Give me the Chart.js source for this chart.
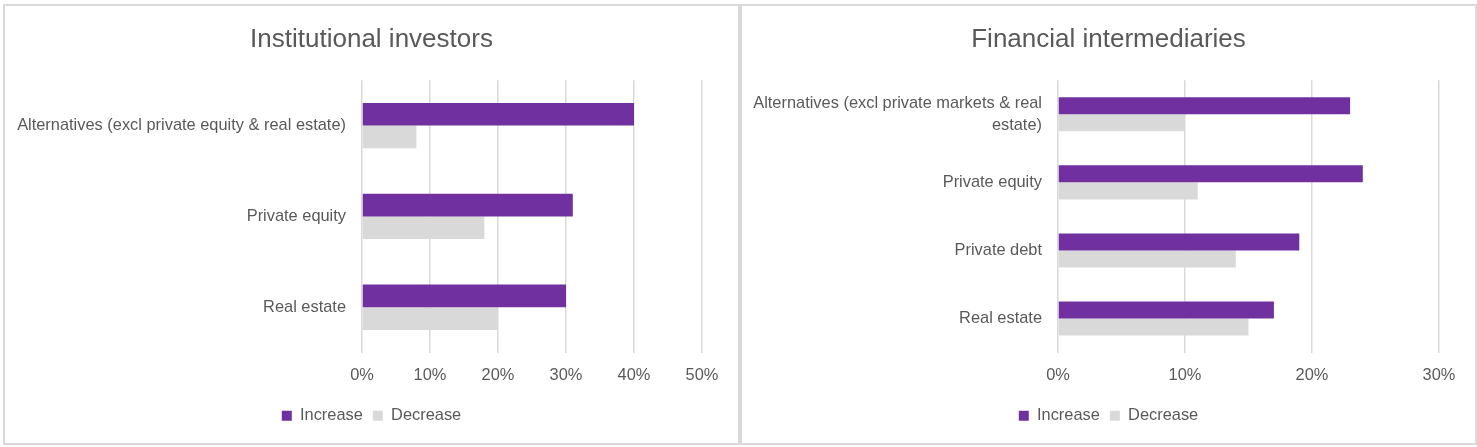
<!DOCTYPE html>
<html>
<head>
<meta charset="utf-8">
<script src="https://cdn.jsdelivr.net/npm/chart.js@4/dist/chart.umd.min.js"></script>
<style>
    html, body { margin: 0; padding: 0; background: #fff; }
    body { width: 1477px; height: 447px; position: relative; overflow: hidden; }
    .panel {
        position: absolute; top: 4px; width: 737px; height: 441px;
        border: 2px solid #d9d9d9; box-sizing: border-box; background: #fff;
    }
    #panel_left { left: 3px; }
    #panel_right { left: 740px; }
    .panel canvas { position: absolute; left: 0; top: 0; }
</style>
</head>
<body>
<div class="panel" id="panel_left"><canvas id="chart_left"></canvas></div>
<div class="panel" id="panel_right"><canvas id="chart_right"></canvas></div>
<script>
var series_names = ['Increase', 'Decrease']
,   series_colors = ['#7030a0', '#d9d9d9']
;

// Institutional investors
var left_title = 'Institutional investors'
,   left_categories = ['Alternatives (excl private equity & real estate)', 'Private equity', 'Real estate']
,   left_increase = [0.40, 0.31, 0.30]
,   left_decrease = [0.08, 0.18, 0.20]
,   left_ticks = [0, 0.1, 0.2, 0.3, 0.4, 0.5]
;

// Financial intermediaries
var right_title = 'Financial intermediaries'
,   right_categories = [['Alternatives (excl private markets & real', 'estate)'], 'Private equity', 'Private debt', 'Real estate']
,   right_increase = [0.23, 0.24, 0.19, 0.17]
,   right_decrease = [0.10, 0.11, 0.14, 0.15]
,   right_ticks = [0, 0.1, 0.2, 0.3]
;

var font_family = "'Liberation Sans', Arial, sans-serif"
,   text_color = '#595959'
;

// Title and legend are centred on the whole panel, not on the padded area
var centerBlocks = {
    id: 'centerBlocks',
    afterLayout: function (chart) {
        [chart.titleBlock, chart.legend].forEach(function (box) {
            if (!box) return;
            box.left = 0;
            box.right = chart.width;
            box.width = chart.width;
        });
    }
};

function drawChart(canvasId, title, categories, increase, decrease, ticks, plotLeft) {
    var ctx = document.getElementById(canvasId).getContext('2d');
    var tickMax = ticks[ticks.length - 1];

    return new Chart(ctx, {
        type: 'bar',
        data: {
            labels: categories,
            datasets: [
                { label: series_names[0], data: increase, backgroundColor: series_colors[0] },
                { label: series_names[1], data: decrease, backgroundColor: series_colors[1] }
            ]
        },
        plugins: [centerBlocks],
        options: {
            indexAxis: 'y',
            responsive: false,
            animation: false,
            devicePixelRatio: 1,
            categoryPercentage: 0.5,
            barPercentage: 1.0,
            layout: { padding: { top: 18, right: 36, bottom: 9, left: 0 } },
            scales: {
                x: {
                    min: 0,
                    max: tickMax,
                    afterBuildTicks: function (scale) {
                        scale.ticks = ticks.map(function (v) { return { value: v }; });
                    },
                    afterFit: function (scale) { scale.height = 45; },
                    grid: { color: '#d9d9d9', lineWidth: 1.5, drawTicks: false },
                    border: { display: false },
                    ticks: {
                        padding: 13,
                        color: text_color,
                        font: { family: font_family, size: 16.4 },
                        callback: function (v) { return Math.round(v * 100) + '%'; }
                    }
                },
                y: {
                    // fixed width so the plot starts where the original does
                    afterFit: function (scale) { scale.width = plotLeft; },
                    grid: { display: false, drawTicks: false },
                    border: { display: false },
                    ticks: {
                        padding: 16,
                        color: text_color,
                        font: { family: font_family, size: 16.4, lineHeight: 1.35 }
                    }
                }
            },
            plugins: {
                title: {
                    display: true,
                    text: title,
                    color: text_color,
                    font: { family: font_family, size: 26, weight: 'normal' },
                    padding: { top: 0, bottom: 25 }
                },
                legend: {
                    display: true,
                    position: 'bottom',
                    labels: {
                        boxWidth: 10,
                        boxHeight: 10,
                        padding: 10,
                        color: text_color,
                        font: { family: font_family, size: 16.4 }
                    }
                },
                tooltip: { enabled: false }
            }
        }
    });
}

// canvas = inner size of the panel
['chart_left', 'chart_right'].forEach(function (id) {
    var c = document.getElementById(id);
    c.width = 733;
    c.height = 437;
    c.style.width = '733px';
    c.style.height = '437px';
});

drawChart('chart_left', left_title, left_categories, left_increase, left_decrease, left_ticks, 357);
drawChart('chart_right', right_title, right_categories, right_increase, right_decrease, right_ticks, 316);
</script>
</body>
</html>
